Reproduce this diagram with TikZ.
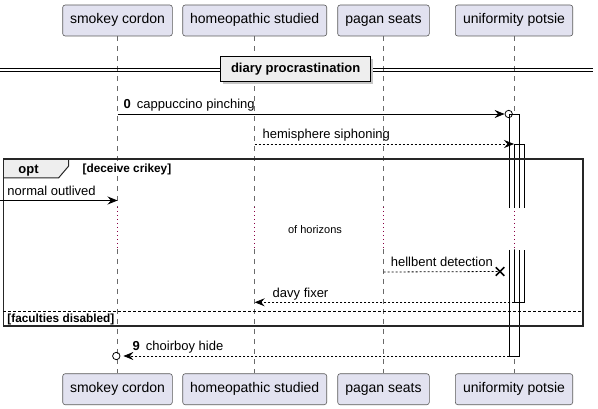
\documentclass[tikz,border=0pt]{standalone}
\usepackage{fontspec}
\setmainfont{Liberation Sans}
\usetikzlibrary{arrows.meta,shapes.misc}
\definecolor{partfill}{HTML}{E2E2F0}
\definecolor{partdraw}{HTML}{5A5A5A}
\definecolor{lifecol}{HTML}{6A6A6A}
\definecolor{delaycol}{HTML}{8B0045}
\definecolor{tabfill}{HTML}{EEEEEE}
\tikzset{
  part/.style={draw=partdraw, fill=partfill, rounded corners=2.5pt, line width=0.6pt,
    font=\fontsize{14}{16}\selectfont, text height=10pt, text depth=3pt,
    minimum height=31pt, inner sep=0pt},
  lifeline/.style={draw=lifecol, line width=0.6pt, dash pattern=on 5pt off 5pt},
  delayline/.style={draw=delaycol, line width=0.8pt, dash pattern=on 1pt off 3pt},
  msg/.style={draw=black, line width=0.8pt},
  retmsg/.style={msg, dash pattern=on 2pt off 2pt},
  tip/.style={-{Stealth[length=10pt,width=8pt,inset=3.5pt]}},
  lbl/.style={font=\fontsize{13}{15}\selectfont, anchor=base west, inner sep=0pt},
  guard/.style={font=\bfseries\fontsize{11.8}{13}\selectfont, anchor=base west, inner sep=0pt},
  bar/.style={draw=black, line width=0.8pt},
  endcirc/.style={circle, draw=black, line width=0.8pt, minimum size=7.4pt, inner sep=0pt},
  frame/.style={draw=black!85, line width=1.6pt},
}
\begin{document}
\begin{tikzpicture}[x=1pt,y=-1pt]
\useasboundingbox (0,0) rectangle (598,409);
% participants
\node[part, minimum width=109.6pt] (pA) at (117.5,20.5) {smokey cordon};
\node[part, minimum width=144pt] (pB) at (254.7,20.5) {homeopathic studied};
\node[part, minimum width=91.6pt] (pC) at (383.5,20.5) {pagan seats};
\node[part, minimum width=117.4pt] (pD) at (514,20.5) {uniformity potsie};
\node[part, minimum width=109.6pt] (qA) at (117.5,389.2) {smokey cordon};
\node[part, minimum width=144pt] (qB) at (254.7,389.2) {homeopathic studied};
\node[part, minimum width=91.6pt] (qC) at (383.5,389.2) {pagan seats};
\node[part, minimum width=117.4pt] (qD) at (514,389.2) {uniformity potsie};
% lifelines with delay
\foreach \p in {A,B,C,D} {
  \coordinate (d\p1) at (p\p |- 0,207);
  \coordinate (d\p2) at (p\p |- 0,249);
  \draw[lifeline] (p\p.south) -- (d\p1);
  \draw[delayline] (d\p1) -- (d\p2);
  \draw[lifeline] (d\p2) -- (q\p.north);
}
% activation bars
\fill[white] (509.3,114) rectangle (519.3,208);
\fill[white] (509.3,250) rectangle (519.3,356);
\fill[white] (514.3,144) rectangle (524.3,208);
\fill[white] (514.3,250) rectangle (524.3,302);
\draw[bar] (509.3,208) -- (509.3,114) -- (519.3,114) -- (519.3,208);
\draw[bar] (509.3,250) -- (509.3,356) -- (519.3,356) -- (519.3,250);
\draw[bar] (514.3,208) -- (514.3,144) -- (524.3,144) -- (524.3,208);
\draw[bar] (514.3,250) -- (514.3,302) -- (524.3,302) -- (524.3,250);
% divider
\draw[line width=0.9pt] (0,68.3) -- (593,68.3);
\draw[line width=0.9pt] (0,71.3) -- (593,71.3);
\fill[gray!45] (223.2,59.2) rectangle (373.2,84.2);
\node[draw=black, line width=1.4pt, fill=tabfill, minimum width=150pt, minimum height=25pt,
  inner sep=0pt, font=\bfseries\fontsize{13}{15}\selectfont, text height=9.5pt, text depth=2.5pt]
  (div) at (295.7,69.2) {diary procrastination};
% message 0
\coordinate (m0s) at (pA |- 0,114);
\node[endcirc] (c0) at (508.7,114) {};
\draw[msg,tip] (m0s) -- (c0.west);
\node[lbl] (t0) at (123.5,109) {\textbf{0}\hspace{6pt}cappuccino pinching};
% message hemisphere
\coordinate (m1s) at (pB |- 0,144);
\coordinate (m1e) at (pD |- 0,144);
\draw[retmsg,tip] (m1s) -- (m1e);
\node[lbl] (t1) at (262.5,139) {hemisphere siphoning};
% opt frame
\fill[tabfill] (3.3,159.3) -- (68.7,159.3) -- (68.7,166) -- (58.5,178) -- (3.3,178) -- cycle;
\draw[frame] (3.3,159.3) rectangle (582.7,326);
\draw[line width=1pt, draw=black!85] (68.7,159.3) -- (68.7,166) -- (58.5,178) -- (3.3,178);
\node[font=\bfseries\fontsize{13}{15}\selectfont, anchor=base, inner sep=0pt] (opt) at (28.5,173.5) {opt};
\node[guard] (g1) at (82.5,173) {[deceive crikey]};
% normal outlived
\coordinate (fo) at (0,200.5);
\coordinate (m2e) at (pA |- 0,200.5);
\draw[msg,tip] (fo) -- (m2e);
\node[lbl] (t2) at (7.3,195.5) {normal outlived};
% delay text
\node[font=\fontsize{11}{13}\selectfont, inner sep=0pt] (dl) at (315,230) {of horizons};
% hellbent detection
\coordinate (m3s) at (pC |- 0,272);
\node[cross out, draw=black, line width=1.5pt, minimum size=7pt, inner sep=0pt] (x3) at (500,271.5) {};
\draw[retmsg] (m3s) -- (x3.center);
\node[lbl] (t3) at (390.7,267) {hellbent detection};
% davy fixer
\coordinate (m4s) at (514.3,302.3);
\coordinate (m4e) at (pB |- 0,302.3);
\draw[retmsg,tip] (m4s) -- (m4e);
\node[lbl] (t4) at (272.5,297.3) {davy fixer};
% else
\draw[line width=0.7pt, dash pattern=on 3pt off 2pt] (3.3,311.7) -- (582.7,311.7);
\node[guard] (g2) at (7.3,322.5) {[faculties disabled]};
% message 9
\coordinate (m5s) at (509.3,356);
\node[endcirc] (c5) at (116.3,356) {};
\draw[retmsg,tip,shorten >=3pt] (m5s) -- (c5.east);
\node[lbl] (t5) at (132.5,351) {\textbf{9}\hspace{6pt}choirboy hide};
\end{tikzpicture}
\end{document}
